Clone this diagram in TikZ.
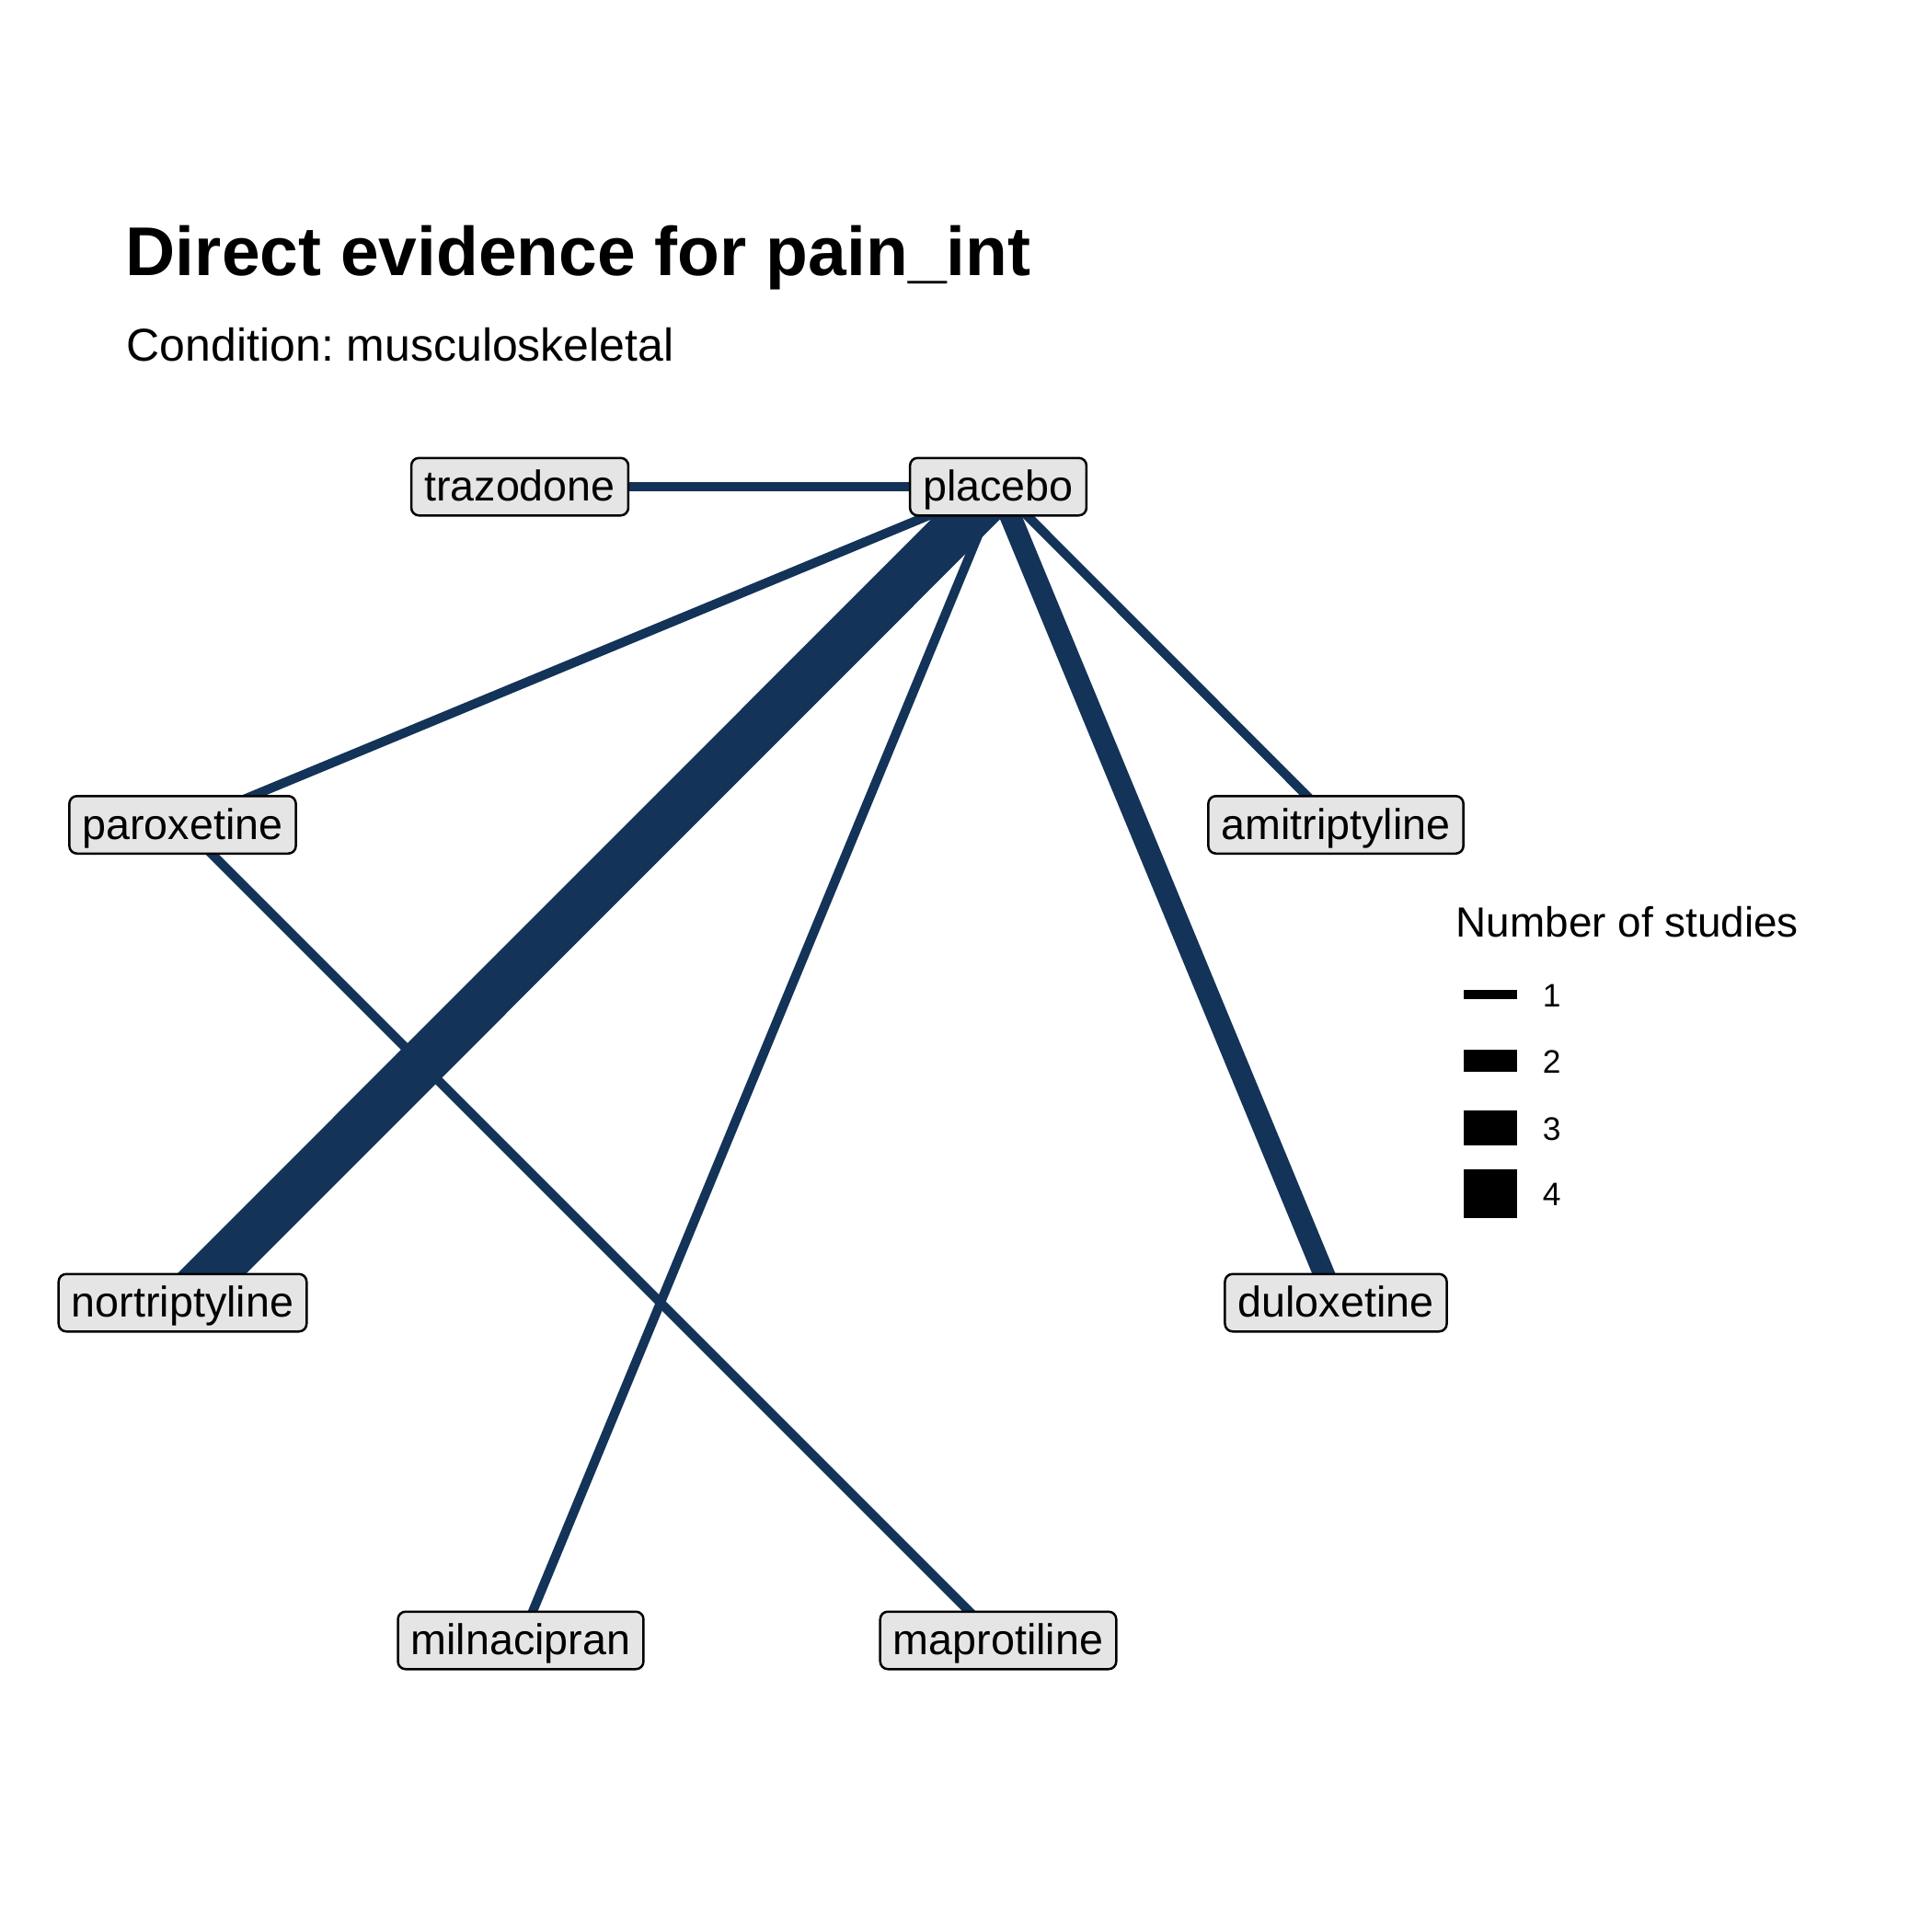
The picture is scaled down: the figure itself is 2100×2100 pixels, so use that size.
\documentclass[tikz,border=0pt]{standalone}
\usepackage{fontspec}
\setmainfont{Liberation Sans}
\usetikzlibrary{backgrounds}
\definecolor{edgecol}{RGB}{19,51,89}
\definecolor{boxfill}{RGB}{229,229,229}
\frenchspacing
\begin{document}
\begin{tikzpicture}[x=0.24pt,y=-0.24pt,
  drug/.style={draw=black, line width=0.6pt, fill=boxfill, rounded corners=2pt,
    inner xsep=3.4pt, inner ysep=1.3pt, text height=10pt, text depth=2.4pt,
    font=\fontsize{11.2}{13}\selectfont},
  eone/.style={draw=edgecol, line width=2.4pt},
  etwo/.style={draw=edgecol, line width=5.6pt},
  efour/.style={draw=edgecol, line width=12.7pt},
  legkey/.style={draw=black, line width=#1},
  legtext/.style={anchor=west, inner sep=0pt, font=\fontsize{8.5}{10}\selectfont}
]
\useasboundingbox (0,0) rectangle (2100,2100);

% titles
\node[anchor=base west, inner sep=0pt, font=\bfseries\fontsize{18}{22}\selectfont] (title) at (136,299) {Direct evidence for pain\_int};
\node[anchor=base west, inner sep=0pt, font=\fontsize{12}{14}\selectfont] (subtitle) at (137,392) {Condition: musculoskeletal};

% nodes
\node[drug] (placebo) at (1085,529) {placebo};
\node[drug] (trazodone) at (565,529) {trazodone};
\node[drug] (paroxetine) at (198.5,896.5) {paroxetine};
\node[drug] (amitriptyline) at (1452,896.5) {amitriptyline};
\node[drug] (nortriptyline) at (198.5,1416) {nortriptyline};
\node[drug] (duloxetine) at (1452,1416) {duloxetine};
\node[drug] (milnacipran) at (566,1783) {milnacipran};
\node[drug] (maprotiline) at (1085,1783) {maprotiline};

% edges (behind the labels)
\begin{scope}[on background layer]
\fill[white] (0,0) rectangle (2100,2100);
\draw[eone] (trazodone.center) -- (placebo.center);
\draw[eone] (paroxetine.center) -- (placebo.center);
\draw[eone] (milnacipran.center) -- (placebo.center);
\draw[eone] (amitriptyline.center) -- (placebo.center);
\draw[eone] (paroxetine.center) -- (maprotiline.center);
\draw[etwo] (duloxetine.center) -- (placebo.center);
\draw[efour] (nortriptyline.center) -- (placebo.center);
\end{scope}

% legend
\node[anchor=base west, inner sep=0pt, font=\fontsize{11}{13}\selectfont] (legtitle) at (1582,1018) {Number of studies};
\draw[legkey=2.4pt] (1591,1081) -- (1649,1081);
\draw[legkey=5.6pt] (1591,1153) -- (1649,1153);
\draw[legkey=9.2pt] (1591,1226) -- (1649,1226);
\draw[legkey=12.7pt] (1591,1297.5) -- (1649,1297.5);
\node[legtext] (lone) at (1676,1082) {1};
\node[legtext] (ltwo) at (1676,1154) {2};
\node[legtext] (lthree) at (1676,1227) {3};
\node[legtext] (lfour) at (1676,1298) {4};
\end{tikzpicture}
\end{document}
